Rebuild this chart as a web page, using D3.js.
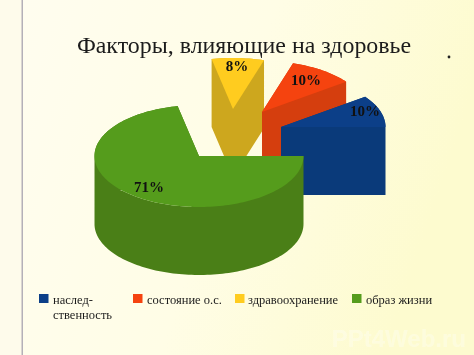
<!DOCTYPE html>
<html><head><meta charset="utf-8">
<script src="https://cdn.jsdelivr.net/npm/d3@7"></script>
<style>html,body{margin:0;padding:0;background:#fefbeb}svg{display:block;filter:blur(0.35px)}</style>
</head><body><svg id="c" width="474" height="355"></svg>
<script>
const title = "Факторы, влияющие на здоровье";
const categories = ["наслед-\nственность", "состояние о.с.", "здравоохранение", "образ жизни"];
const values = [10, 10, 8, 71];
const labels = ["10%", "10%", "8%", "71%"];
const topColors = ["#0c3f88", "#f5430f", "#ffcc1f", "#559c1c"];
const sideColors = ["#0a3a7a", "#d53e0e", "#cda71e", "#4a7f17"];

const W = 474, H = 355;
const cx = 199, cy = 156, rx = 104.5, ry = 51, depth = 68;
// explosion offset of each slice from the pie centre
const offsets = [[82, -29], [63, -44], [34, -47], [0, 0]];
const labelPos = [[365, 116], [306, 85], [237, 71], [149, 192]];
const legendSwatchX = [39, 133, 235, 352];
const legendTextX = [53, 147, 248, 366];

const svg = d3.select("#c");
const defs = svg.append("defs");
const g = defs.append("linearGradient").attr("id", "bg").attr("x1", 0).attr("x2", 1).attr("y1", 0).attr("y2", 0.25);
g.append("stop").attr("offset", "0").attr("stop-color", "#fffdf0");
g.append("stop").attr("offset", "0.55").attr("stop-color", "#fffde6");
g.append("stop").attr("offset", "1").attr("stop-color", "#fdfbcf");

svg.append("rect").attr("width", W).attr("height", H).attr("fill", "url(#bg)");
svg.append("rect").attr("width", 22).attr("height", H).attr("fill", "#fefbeb");
svg.append("rect").attr("x", 21.5).attr("width", 1.5).attr("height", H).attr("fill", "#b4b0b8");

svg.append("text").attr("x", 244).attr("y", 53).attr("text-anchor", "middle")
  .attr("font-family", "Liberation Serif").attr("font-size", 23.9).attr("fill", "#1c1c1c").text(title);
svg.append("circle").attr("cx", 449).attr("cy", 57).attr("r", 1.4).attr("fill", "#222");

// slices run counter-clockwise from the east
const pie = d3.pie().sort(null).startAngle(Math.PI / 2).endAngle(Math.PI / 2 - 2 * Math.PI);
const arcs = pie(values);
const sx = d3.scaleLinear().domain([-1, 1]).range([-rx, rx]);
const sy = d3.scaleLinear().domain([-1, 1]).range([-ry, ry]);
const line = d3.line();

function outline(a) {
  const pts = [[0, 0]];
  const n = Math.max(6, Math.ceil(Math.abs(a.endAngle - a.startAngle) / 0.03));
  for (let i = 0; i <= n; i++) {
    const t = a.startAngle + (a.endAngle - a.startAngle) * i / n;
    pts.push([sx(Math.sin(t)), sy(-Math.cos(t))]);
  }
  return pts;
}

[2, 1, 0, 3].forEach(i => {
  const pts = outline(arcs[i]);
  const gs = svg.append("g").attr("transform", `translate(${cx + offsets[i][0]},${cy + offsets[i][1]})`);
  // one path holds every extruded face, all wound the same way, so no seams show
  const faces = pts.map((p, k) => {
    const q = pts[(k + 1) % pts.length];
    const f = [p, q, [q[0], q[1] + depth], [p[0], p[1] + depth]];
    return d3.polygonArea(f) < 0 ? f.reverse() : f;
  });
  gs.append("path").attr("d", faces.map(f => line(f) + "Z").join(""))
    .attr("fill", sideColors[i]).attr("fill-rule", "nonzero");
  gs.append("path").attr("d", line(pts) + "Z").attr("fill", topColors[i]);
});

svg.selectAll("text.pct").data(labels).join("text").attr("class", "pct")
  .attr("x", (d, i) => labelPos[i][0]).attr("y", (d, i) => labelPos[i][1])
  .attr("text-anchor", "middle").attr("font-family", "Liberation Serif")
  .attr("font-weight", "bold").attr("font-size", 15).attr("fill", "#111").text(d => d);

categories.forEach((c, i) => {
  svg.append("rect").attr("x", legendSwatchX[i]).attr("y", 294).attr("width", 9.5).attr("height", 9).attr("fill", topColors[i]);
  c.split("\n").forEach((s, k) => {
    svg.append("text").attr("x", legendTextX[i]).attr("y", 304 + k * 14.5)
      .attr("font-family", "Liberation Serif").attr("font-size", 12.5).attr("fill", "#1c1c1c").text(s);
  });
});

svg.append("text").attr("x", 466).attr("y", 347).attr("text-anchor", "end")
  .attr("font-family", "Liberation Sans").attr("font-weight", "bold").attr("font-size", 24)
  .attr("fill", "#fff").attr("opacity", 0.3).text("PPt4Web.ru");
</script></body></html>
